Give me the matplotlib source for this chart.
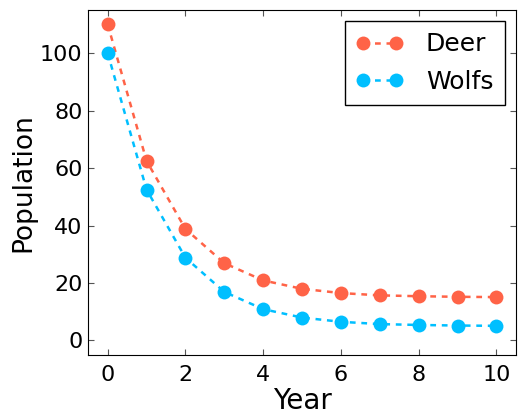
import numpy as np
import matplotlib
matplotlib.use("Agg")
import matplotlib.pyplot as plt

years = [0, 1, 2, 3, 4, 5, 6, 7, 8, 9, 10]
deer = [110, 62.5, 38.8, 26.9, 20.9, 17.97, 16.5, 15.7, 15.4, 15.2, 15.1]
wolfs = [100, 52.5, 28.8, 16.9, 10.9, 7.97, 6.5, 5.7, 5.4, 5.2, 5.1]

fig = plt.figure(figsize=(5.19, 4.16), dpi=100)
ax = fig.add_axes([0.17, 0.147, 0.824, 0.829])

ax.plot(years, deer, "--o", color="tomato", markersize=10, linewidth=1.8,
        dashes=(2.3, 2.3), markeredgewidth=0, label="Deer")
ax.plot(years, wolfs, "--o", color="deepskyblue", markersize=10, linewidth=1.8,
        dashes=(2.3, 2.3), markeredgewidth=0, label="Wolfs")

ax.set_xlim(-0.5, 10.5)
ax.set_ylim(-5, 115)
ax.set_xticks([0, 2, 4, 6, 8, 10])
ax.set_yticks([0, 20, 40, 60, 80, 100])
ax.tick_params(direction="in", top=True, right=True, labelsize=16,
               color="#555555", length=4)
ax.tick_params(axis="x", pad=7)
ax.tick_params(axis="y", pad=4)
ax.set_xlabel("Year", fontsize=20, labelpad=2)
ax.set_ylabel("Population", fontsize=19, labelpad=3)

leg = ax.legend(loc="upper right", fontsize=18, numpoints=2, fancybox=False,
                framealpha=1, edgecolor="black", handlelength=1.9,
                handletextpad=0.9, labelspacing=0.55, borderpad=0.45,
                borderaxespad=0.45)
leg.get_frame().set_linewidth(1.0)

fig.savefig("out.png", dpi=100)
